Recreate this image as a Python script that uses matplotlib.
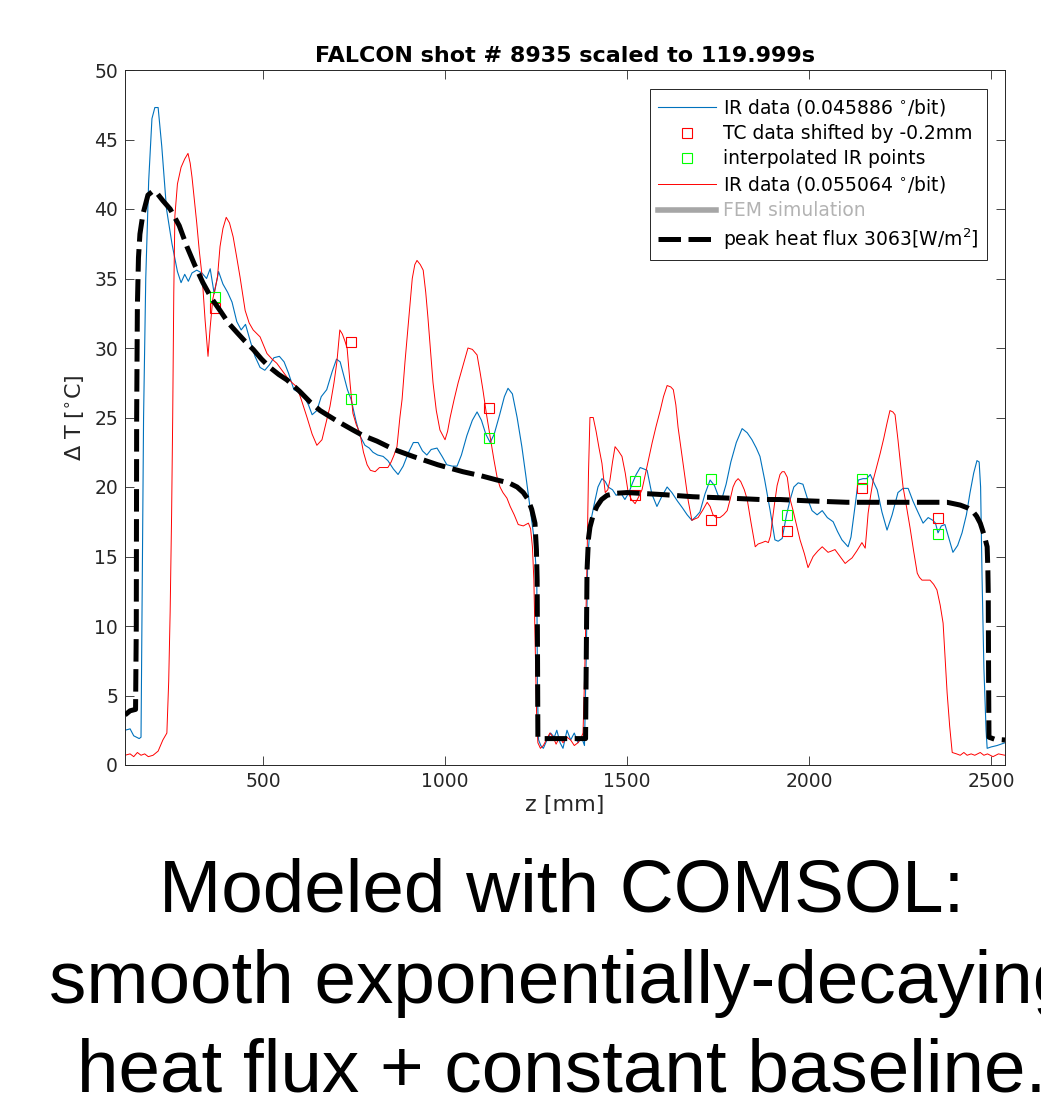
import matplotlib
matplotlib.use('Agg')
import matplotlib.pyplot as plt

# ==============================
# Data
# ==============================
blue_z = [121, 135, 145, 160, 165, 168, 172, 178, 186, 195, 203, 212, 222, 235, 250, 265, 275, 285, 295, 305,
          318, 332, 345, 355, 366, 378, 390, 403, 415, 428, 440, 452, 465, 478, 492, 505, 518, 530, 545, 558,
          570, 585, 600, 615, 625, 635, 648, 660, 675, 690, 702, 712, 722, 732, 742, 755, 766, 780, 792, 802,
          815, 830, 843, 858, 871, 885, 900, 913, 926, 938, 950, 962, 978, 992, 1005, 1020, 1033, 1045, 1060, 1075,
          1088, 1100, 1112, 1124, 1135, 1150, 1163, 1173, 1185, 1198, 1211, 1222, 1233, 1245, 1252, 1254, 1257, 1263, 1270, 1280,
          1290, 1300, 1307, 1316, 1324, 1335, 1345, 1355, 1365, 1375, 1383, 1388, 1392, 1400, 1410, 1420, 1431, 1440, 1448, 1460,
          1470, 1482, 1494, 1505, 1515, 1525, 1536, 1546, 1555, 1568, 1582, 1595, 1610, 1623, 1638, 1652, 1665, 1678, 1690, 1700,
          1714, 1728, 1740, 1750, 1761, 1772, 1785, 1800, 1816, 1830, 1843, 1855, 1865, 1878, 1893, 1906, 1915, 1926, 1938, 1948,
          1958, 1970, 1983, 1995, 2008, 2022, 2036, 2050, 2066, 2078, 2090, 2107, 2115, 2121, 2128, 2135, 2148, 2158, 2168, 2178,
          2187, 2200, 2214, 2228, 2244, 2258, 2272, 2285, 2297, 2313, 2327, 2340, 2347, 2354, 2363, 2373, 2385, 2395, 2408, 2420,
          2432, 2442, 2452, 2461, 2467, 2471, 2475, 2480, 2486, 2489, 2500, 2516, 2538]
blue_t = [2.5, 2.6, 2.1, 1.9, 2.0, 12, 25, 35, 42, 46.5, 47.3, 47.3, 44.5, 40, 37.5, 35.5, 34.7, 35.3, 34.8, 35.4,
          35.6, 35.4, 35.0, 35.7, 33.9, 35.5, 34.6, 34.0, 33.3, 31.9, 31.3, 31.7, 30.5, 29.4, 28.6, 28.4, 28.8, 29.3, 29.4, 29.0,
          28.2, 27.0, 26.8, 26.4, 25.9, 25.2, 25.5, 26.5, 27.0, 28.3, 29.2, 29.0, 28.0, 27.0, 26.3, 24.8, 23.7, 23.0, 22.8, 22.5,
          22.3, 22.2, 21.9, 21.3, 20.9, 21.5, 22.5, 23.2, 23.2, 22.6, 22.3, 22.7, 22.8, 22.2, 21.6, 21.5, 21.5, 22.3, 23.7, 24.8,
          25.4, 24.8, 23.8, 23.2, 23.8, 25.2, 26.5, 27.1, 26.7, 25.0, 22.9, 20.8, 18.6, 16.2, 13.3, 5.0, 1.8, 1.4, 1.2, 1.8,
          2.3, 2.0, 2.5, 1.6, 1.2, 2.5, 1.8, 2.3, 1.6, 2.0, 1.4, 8, 15, 17.5, 18.8, 20.0, 20.6, 20.4, 20.0, 19.8,
          19.4, 19.6, 19.1, 19.6, 20.3, 20.9, 21.4, 21.3, 21.2, 19.5, 18.6, 19.3, 20.0, 19.6, 19.0, 18.5, 18.0, 17.6, 17.9, 18.2,
          19.5, 20.5, 20.1, 19.4, 19.2, 20.2, 21.8, 23.2, 24.2, 23.9, 23.4, 22.8, 22.2, 20.5, 18.3, 16.2, 16.1, 16.3, 18.0, 19.1,
          20.0, 20.3, 20.2, 19.2, 18.3, 18.0, 18.3, 17.8, 17.5, 16.8, 16.2, 15.7, 16.4, 17.6, 19.0, 20.5, 20.6, 20.6, 20.9, 20.3,
          19.8, 18.2, 16.9, 18.0, 19.6, 19.9, 19.9, 19.0, 18.3, 17.4, 17.8, 17.6, 17.4, 16.7, 17.2, 17.3, 16.2, 15.3, 15.8, 16.7,
          18.0, 19.6, 21.0, 21.9, 21.8, 20.0, 13.5, 7.0, 2.5, 1.2, 1.3, 1.4, 1.6]

red_z = [121, 135, 145, 155, 165, 175, 185, 198, 212, 225, 236, 241, 245, 249, 252, 255, 258, 265, 275, 285,
         294, 300, 305, 312, 318, 325, 333, 341, 349, 355, 362, 375, 382, 390, 399, 408, 418, 428, 437, 451,
         462, 473, 492, 511, 525, 538, 552, 566, 580, 593, 605, 621, 635, 648, 662, 672, 684, 695, 703, 711,
         718, 725, 731, 739, 747, 756, 766, 776, 786, 795, 808, 820, 830, 843, 852, 860, 868, 876, 882, 890,
         900, 910, 917, 923, 932, 940, 947, 953, 960, 967, 976, 986, 1000, 1007, 1014, 1025, 1036, 1050, 1063, 1075,
         1088, 1096, 1104, 1114, 1124, 1134, 1143, 1151, 1159, 1170, 1179, 1190, 1201, 1215, 1229, 1235, 1240, 1244, 1248, 1252,
         1255, 1262, 1270, 1280, 1288, 1297, 1305, 1315, 1324, 1335, 1345, 1355, 1365, 1373, 1379, 1384, 1390, 1394, 1398, 1407,
         1415, 1423, 1431, 1440, 1447, 1453, 1460, 1467, 1476, 1486, 1495, 1503, 1512, 1522, 1532, 1541, 1555, 1569, 1580, 1591,
         1600, 1610, 1620, 1627, 1634, 1640, 1650, 1659, 1668, 1678, 1686, 1695, 1707, 1720, 1728, 1736, 1745, 1755, 1765, 1775,
         1783, 1791, 1798, 1805, 1812, 1822, 1830, 1840, 1852, 1860, 1871, 1880, 1888, 1894, 1898, 1905, 1912, 1920, 1926, 1932,
         1940, 1948, 1956, 1966, 1975, 1987, 1997, 2004, 2011, 2024, 2036, 2044, 2052, 2062, 2071, 2085, 2099, 2108, 2118, 2131,
         2145, 2154, 2158, 2162, 2169, 2176, 2185, 2195, 2205, 2214, 2222, 2230, 2236, 2240, 2244, 2250, 2258, 2268, 2277, 2287,
         2297, 2303, 2310, 2322, 2332, 2342, 2351, 2360, 2368, 2374, 2379, 2386, 2393, 2405, 2415, 2425, 2434, 2445, 2455, 2470,
         2480, 2490, 2505, 2520, 2538]
red_t = [0.7, 0.8, 0.6, 0.9, 0.7, 0.8, 0.6, 0.7, 1.0, 1.8, 2.3, 6, 11, 18, 25, 34, 39.5, 41.8, 43.0, 43.6,
         44.0, 43.3, 42.3, 40.5, 39.0, 37.0, 35.1, 32.0, 29.4, 31.5, 33.5, 35.1, 37.3, 38.6, 39.4, 39.0, 38.0, 36.5, 35.1, 32.7,
         31.8, 31.3, 30.8, 29.6, 29.2, 28.9, 28.4, 27.9, 27.5, 27.2, 26.3, 25.0, 23.8, 23.0, 23.4, 24.5, 25.8, 27.5, 29.0, 31.3,
         31.0, 30.5, 30.0, 27.5, 25.3, 24.5, 23.9, 22.5, 21.6, 21.2, 21.1, 21.4, 21.4, 21.4, 21.8, 22.3, 22.9, 25.0, 26.3, 29.0,
         32.0, 35.0, 36.0, 36.3, 36.0, 35.6, 34.0, 32.2, 29.8, 27.5, 25.5, 24.1, 23.4, 24.0, 25.0, 26.3, 27.5, 28.8, 30.0, 29.9,
         29.5, 28.3, 27.0, 25.2, 23.6, 22.0, 20.7, 20.0, 19.6, 19.2, 18.6, 18.0, 17.3, 17.2, 17.4, 17.0, 15.7, 13.3, 8, 3,
         1.6, 1.2, 1.4, 1.9, 2.3, 2.0, 1.5, 2.0, 1.6, 2.0, 1.8, 1.4, 1.6, 1.9, 2.3, 7, 14.7, 21, 25.0, 25.0,
         24.0, 22.8, 21.7, 19.6, 19.8, 20.5, 21.8, 22.9, 22.6, 22.2, 21.0, 19.6, 19.1, 18.8, 19.3, 19.8, 21.5, 23.2, 24.4, 25.5,
         26.5, 27.3, 27.2, 27.0, 25.9, 24.3, 22.4, 20.7, 19.0, 17.6, 17.7, 17.8, 18.3, 18.9, 18.6, 18.0, 17.8, 17.8, 18.0, 18.3,
         19.1, 20.0, 20.4, 20.6, 20.4, 19.8, 19.1, 17.5, 15.7, 15.9, 16.0, 16.1, 16.0, 16.5, 17.4, 18.8, 20.1, 20.9, 21.1, 21.1,
         20.7, 19.1, 18.3, 17.2, 16.2, 15.2, 14.2, 14.6, 15.0, 15.4, 15.7, 15.5, 15.3, 15.4, 15.5, 15.0, 14.5, 14.7, 14.9, 15.4,
         16.0, 15.6, 16.8, 18.1, 19.4, 20.5, 21.4, 22.4, 23.5, 24.6, 25.5, 25.4, 25.2, 24.3, 23.4, 21.9, 20.0, 18.5, 17.1, 15.4,
         13.8, 13.5, 13.3, 13.3, 13.3, 13.0, 12.6, 11.5, 10.2, 7.5, 5.2, 2.8, 0.9, 0.8, 0.7, 0.9, 0.7, 0.8, 0.7, 0.9,
         0.7, 0.8, 0.6, 0.8, 0.7]

flux_z = [121, 135, 150, 152, 153, 155, 158, 162, 170, 184, 198, 210, 225, 245, 270, 291, 312, 335, 358, 382,
          405, 429, 450, 473, 496, 519, 543, 566, 600, 630, 657, 700, 747, 775, 813, 860, 912, 980, 1049, 1100,
          1143, 1175, 1198, 1215, 1228, 1238, 1247, 1251, 1253, 1254, 1255, 1265, 1288, 1320, 1343, 1370, 1386, 1388, 1390, 1394,
          1398, 1407, 1417, 1430, 1445, 1470, 1500, 1600, 1681, 1780, 1865, 1920, 2000, 2104, 2250, 2379, 2415, 2435, 2448, 2460,
          2470, 2480, 2489, 2491, 2492, 2493, 2494, 2510, 2538]
flux_t = [3.6, 3.9, 4.0, 10, 25, 33, 36.5, 38.2, 39.6, 41.0, 41.3, 41.1, 40.6, 40.0, 38.8, 37.3, 36.0, 34.7, 33.6, 32.7,
          31.8, 31.1, 30.5, 29.9, 29.2, 28.6, 28.1, 27.7, 26.9, 26.1, 25.5, 24.8, 24.1, 23.7, 23.3, 22.7, 22.2, 21.6, 21.1, 20.8,
          20.5, 20.3, 20.0, 19.6, 19.1, 18.4, 17.4, 15.5, 13.3, 8, 2.0, 1.9, 1.9, 1.9, 1.9, 1.9, 1.9, 8, 14, 16.3,
          17.1, 18.0, 18.6, 19.1, 19.4, 19.55, 19.6, 19.45, 19.3, 19.2, 19.1, 19.1, 19.0, 18.9, 18.9, 18.9, 18.7, 18.5, 18.3, 17.9,
          17.4, 16.6, 15.7, 14.0, 12.4, 6, 2.0, 1.85, 1.8]

tc_z = [368, 742, 1121, 1522, 1731, 1940, 2145, 2354]
tc_t = [32.9, 30.4, 25.7, 19.4, 17.6, 16.8, 19.9, 17.8]
interp_t = [33.7, 26.3, 23.5, 20.4, 20.6, 18.0, 20.6, 16.6]

MATLAB_BLUE = (0, 0.447, 0.741)
AX_GRAY = (0.15, 0.15, 0.15)

# ==============================
# Figure
# ==============================
W, H = 1041, 1097
fig = plt.figure(figsize=(W / 100, H / 100), dpi=100)
ax = fig.add_axes([125 / W, 1 - 765 / H, (1005 - 125) / W, (765 - 70) / H])

ax.plot(blue_z, blue_t, color=MATLAB_BLUE, lw=0.8, label='IR data (0.045886 $^{\\circ}$/bit)')
ax.plot(tc_z, tc_t, 's', color='r', mfc='none', ms=7, mew=0.8, label='TC data shifted by -0.2mm', zorder=4)
ax.plot(tc_z, interp_t, 's', color=(0, 1, 0), mfc='none', ms=7, mew=0.8, label='interpolated IR points', zorder=4)
ax.plot(red_z, red_t, color='r', lw=0.7, label='IR data (0.055064 $^{\\circ}$/bit)')
ax.plot([], [], color=(0.65, 0.65, 0.65), lw=4, label='FEM simulation')
ax.plot(flux_z, flux_t, color='k', lw=3.6, ls=(0, (4.5, 1.5)), label='peak heat flux 3063[W/m$^2$]', zorder=5)

ax.set_xlim(121, 2538)
ax.set_ylim(0, 50)
ax.set_xticks([500, 1000, 1500, 2000, 2500])
ax.set_yticks(range(0, 51, 5))
ax.tick_params(direction='in', length=6.5, width=0.6, colors=AX_GRAY, labelsize=13.5,
               top=True, right=True, pad=5)
for s in ax.spines.values():
    s.set_color(AX_GRAY)
    s.set_linewidth(0.7)

ax.set_title('FALCON shot # 8935 scaled to 119.999s', fontsize=16, fontweight='bold', pad=6)
ax.set_xlabel('z [mm]', fontsize=16, color=AX_GRAY, labelpad=3)
ax.set_ylabel('$\\Delta$ T [$^{\\circ}$C]', fontsize=16, color=AX_GRAY, labelpad=5)

leg = ax.legend(loc='upper right', bbox_to_anchor=(987 / W, 1 - 89 / H), bbox_transform=fig.transFigure,
                borderaxespad=0, fontsize=13.5, handlelength=3.1, handletextpad=0.35, labelspacing=0.32,
                borderpad=0.45, fancybox=False, framealpha=1, edgecolor=AX_GRAY)
leg.get_frame().set_linewidth(0.7)
leg.get_texts()[4].set_color((0.7, 0.7, 0.7))

# ==============================
# Caption below the plot
# ==============================
caption = ['Modeled with COMSOL:', 'smooth exponentially-decaying', 'heat flux + constant baseline.']
for line, yb in zip(caption, [912, 1003, 1092]):
    fig.text(562 / W, 1 - yb / H, line, ha='center', va='baseline', fontsize=53.8,
             family='Liberation Sans', color='k')

fig.savefig('out.png', dpi=100)
